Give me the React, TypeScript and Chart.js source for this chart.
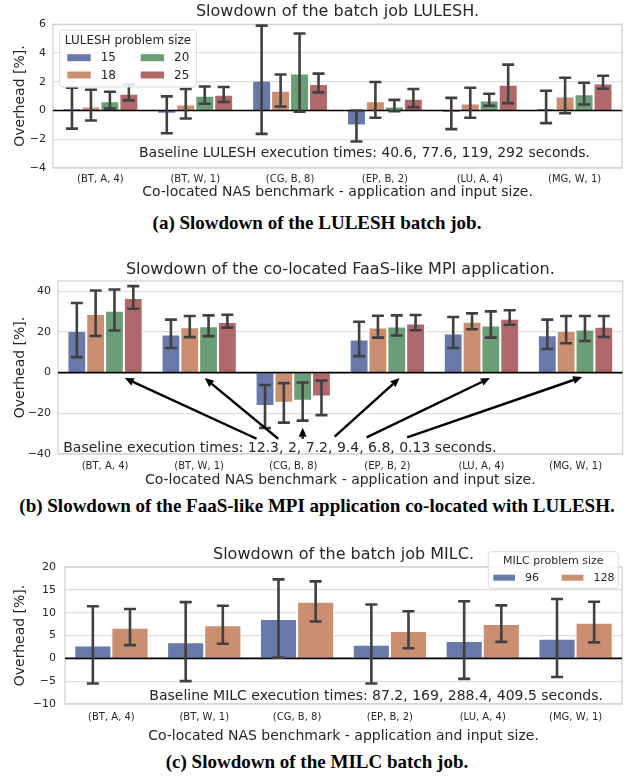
import React, { useEffect, useRef } from 'react';
import { Chart, registerables } from 'chart.js';

Chart.register(...registerables);

// ---------------- data ----------------
const categories = ['(BT, A, 4)', '(BT, W, 1)', '(CG, B, 8)', '(EP, B, 2)', '(LU, A, 4)', '(MG, W, 1)'];

// (a) slowdown of LULESH batch job
const luleshSizes = ['15', '18', '20', '25'];
const lulesh15 = [0.14, -0.23, 2.09, -1.05, -0.14, 0.16];
const lulesh15Lo = [-1.26, -1.58, -1.63, -2.16, -1.3, -0.88];
const lulesh15Hi = [1.58, 0.98, 5.9, 0.0, 0.88, 1.37];
const lulesh18 = [0.28, 0.42, 1.37, 0.65, 0.49, 0.98];
const lulesh18Lo = [-0.7, -0.56, 0.28, -0.51, -0.51, -0.19];
const lulesh18Hi = [1.44, 1.49, 2.5, 1.98, 1.58, 2.28];
const lulesh20 = [0.65, 1.02, 2.58, 0.28, 0.7, 1.12];
const lulesh20Lo = [0.14, 0.47, -0.09, -0.05, 0.33, 0.42];
const lulesh20Hi = [1.3, 1.67, 5.35, 0.74, 1.16, 1.93];
const lulesh25 = [1.16, 1.09, 1.84, 0.81, 1.79, 1.88];
const lulesh25Lo = [0.7, 0.6, 1.26, 0.23, 0.51, 1.51];
const lulesh25Hi = [1.81, 1.63, 2.56, 1.49, 3.19, 2.42];
const luleshTicks = [-4, -2, 0, 2, 4, 6];

// (b) slowdown of co-located FaaS-like MPI application
const faas15 = [20.5, 18.7, -16.4, 16.2, 19.2, 18.3];
const faas15Lo = [7.6, 12.1, -27.2, 8.1, 12.1, 11.6];
const faas15Hi = [34.2, 26.0, -6.1, 25.0, 27.3, 26.0];
const faas18 = [28.8, 22.3, -14.8, 22.1, 25.0, 20.5];
const faas18Lo = [18.0, 17.4, -24.6, 17.2, 21.3, 14.4];
const faas18Hi = [40.3, 27.8, -5.2, 27.9, 29.1, 27.8];
const faas20 = [30.4, 22.8, -13.8, 22.6, 23.1, 21.2];
const faas20Lo = [20.7, 17.9, -23.6, 18.2, 17.2, 15.5];
const faas20Hi = [40.8, 28.1, -4.9, 28.1, 30.1, 27.8];
const faas25 = [36.7, 24.8, -11.8, 24.1, 26.4, 22.5];
const faas25Lo = [31.4, 22.1, -20.9, 20.8, 23.5, 17.5];
const faas25Hi = [42.5, 28.4, -3.9, 28.3, 30.6, 27.8];
const faasTicks = [-40, -20, 0, 20, 40];
const arrowTipX = [0.21, 1.06, 2.1, 3.13, 4.09, 5.07];
const arrowTipY = [-2.7, -2.7, -27.1, -2.7, -2.7, -2.2];
const arrowTailX = [1.61, 1.84, 2.1, 2.44, 2.78, 3.21];
const arrowTailY = [-32.5, -32.5, -32.5, -31.5, -31.8, -31.8];

// (c) slowdown of MILC batch job
const milcSizes = ['96', '128'];
const milc96 = [2.8, 3.5, 8.6, 3.0, 3.8, 4.3];
const milc96Lo = [-5.5, -5.0, 0.15, -5.5, -4.5, -4.1];
const milc96Hi = [11.4, 12.3, 17.3, 11.8, 12.5, 13.0];
const milc128 = [6.7, 7.25, 12.4, 6.0, 7.5, 7.8];
const milc128Lo = [2.9, 3.2, 8.05, 2.2, 3.6, 3.5];
const milc128Hi = [10.8, 11.5, 16.85, 10.3, 11.6, 12.4];
const milcTicks = [-10, -5, 0, 5, 10, 15, 20];

// ---------------- style ----------------
const COLORS = ['#6879aa', '#c98f70', '#6b9e76', '#b1686a'];
const TEXT = '#262626';
const FONT = "'DejaVu Sans', sans-serif";
const XLABEL = 'Co-located NAS benchmark - application and input size.';
const YLABEL = 'Overhead [%].';

Chart.defaults.font.family = FONT;
Chart.defaults.color = TEXT;

const fmt = (v: number) => (v < 0 ? '\u2212' + Math.abs(v) : String(v));

type Legend = {
  title: string; titleSize: number; labelSize: number; right: boolean; dx: number; dy: number;
  w: number; h: number; titleDy: number; padX: number; colStep: number; patchW: number; patchH: number;
  rowY0: number; rowStep: number; labelDx: number; rows: number;
};

type Spec = {
  top: number; height: number; title: string; titlePad: { top: number; bottom: number };
  series: string[]; values: number[][]; lo: number[][]; hi: number[][];
  ticks: number[]; yMin: number; yMax: number; yW: number; yTickPad: number; yTitlePt: number;
  xH: number; xTickPad: number; xTitlePb: number; rightPad: number;
  note: string; noteX: number; noteY: number;
  legend?: Legend;
  arrows?: { tx: number[]; ty: number[]; sx: number[]; sy: number[] };
};

function makePlugins(spec: Spec) {
  return [
    {
      id: 'frameZero',
      beforeDatasetsDraw(chart: any) {
        const { ctx, chartArea: a } = chart;
        ctx.save();
        ctx.strokeStyle = '#cfcfcf';
        ctx.lineWidth = 1.2;
        ctx.strokeRect(a.left, a.top, a.right - a.left, a.bottom - a.top);
        ctx.restore();
      },
      afterDatasetsDraw(chart: any) {
        const { ctx, chartArea: a } = chart;
        const ys = chart.scales.y;
        ctx.save();
        const y0 = ys.getPixelForValue(0);
        ctx.strokeStyle = '#000000';
        ctx.lineWidth = 1.6;
        ctx.beginPath();
        ctx.moveTo(a.left, y0);
        ctx.lineTo(a.right, y0);
        ctx.stroke();
        // error bars
        ctx.strokeStyle = '#404040';
        ctx.lineWidth = 2.6;
        const cap = 6;
        spec.values.forEach((_, i) => {
          const meta = chart.getDatasetMeta(i);
          meta.data.forEach((el: any, j: number) => {
            const x = el.x;
            const y1 = ys.getPixelForValue(spec.lo[i][j]);
            const y2 = ys.getPixelForValue(spec.hi[i][j]);
            ctx.beginPath();
            ctx.moveTo(x, y1);
            ctx.lineTo(x, y2);
            ctx.moveTo(x - cap, y1);
            ctx.lineTo(x + cap, y1);
            ctx.moveTo(x - cap, y2);
            ctx.lineTo(x + cap, y2);
            ctx.stroke();
          });
        });
        ctx.restore();
      },
      afterDraw(chart: any) {
        const { ctx, chartArea: a } = chart;
        const xs = chart.scales.x;
        const ys = chart.scales.y;
        ctx.save();
        // annotation text
        ctx.fillStyle = TEXT;
        ctx.font = `14px ${FONT}`;
        ctx.textAlign = 'left';
        ctx.textBaseline = 'middle';
        ctx.fillText(spec.note, xs.getPixelForValue(spec.noteX), ys.getPixelForValue(spec.noteY));
        // arrows
        if (spec.arrows) {
          const ar = spec.arrows;
          ctx.strokeStyle = '#000';
          ctx.fillStyle = '#000';
          ctx.lineWidth = 2.4;
          ar.tx.forEach((_, k) => {
            const tx = xs.getPixelForValue(ar.tx[k]);
            const ty = ys.getPixelForValue(ar.ty[k]);
            const sx = xs.getPixelForValue(ar.sx[k]);
            const sy = ys.getPixelForValue(ar.sy[k]);
            const ang = Math.atan2(ty - sy, tx - sx);
            const hl = 9, hw = 4;
            const bx = tx - hl * Math.cos(ang);
            const by = ty - hl * Math.sin(ang);
            ctx.beginPath();
            ctx.moveTo(sx, sy);
            ctx.lineTo(bx, by);
            ctx.stroke();
            ctx.beginPath();
            ctx.moveTo(tx, ty);
            ctx.lineTo(bx + hw * Math.sin(ang), by - hw * Math.cos(ang));
            ctx.lineTo(bx - hw * Math.sin(ang), by + hw * Math.cos(ang));
            ctx.closePath();
            ctx.fill();
          });
        }
        // legend
        const L = spec.legend;
        if (L) {
          const bx = L.right ? a.right - L.dx - L.w : a.left + L.dx;
          const by = a.top + L.dy;
          ctx.fillStyle = 'rgba(255,255,255,0.85)';
          ctx.strokeStyle = '#dddddd';
          ctx.lineWidth = 1;
          ctx.beginPath();
          (ctx as any).roundRect(bx, by, L.w, L.h, 3);
          ctx.fill();
          ctx.stroke();
          ctx.fillStyle = TEXT;
          ctx.font = `${L.titleSize}px ${FONT}`;
          ctx.textAlign = 'center';
          ctx.textBaseline = 'middle';
          ctx.fillText(L.title, bx + L.w / 2, by + L.titleDy);
          ctx.font = `${L.labelSize}px ${FONT}`;
          ctx.textAlign = 'left';
          spec.series.forEach((name, k) => {
            const col = Math.floor(k / L.rows);
            const row = k % L.rows;
            const px = bx + L.padX + col * L.colStep;
            const py = by + L.rowY0 + row * L.rowStep;
            ctx.fillStyle = COLORS[k];
            ctx.fillRect(px, py - L.patchH / 2, L.patchW, L.patchH);
            ctx.fillStyle = TEXT;
            ctx.fillText(name, px + L.labelDx, py + 0.5);
          });
        }
        ctx.restore();
      },
    },
  ];
}

function Panel({ spec }: { spec: Spec }) {
  const ref = useRef<HTMLCanvasElement>(null);
  useEffect(() => {
    const chart = new Chart(ref.current as HTMLCanvasElement, {
      type: 'bar',
      data: {
        labels: categories,
        datasets: spec.values.map((vals, i) => ({
          label: spec.series[i],
          data: vals,
          backgroundColor: COLORS[i],
          borderColor: '#ffffff',
          borderWidth: 1,
          categoryPercentage: 0.8,
          barPercentage: 1.0,
        })),
      },
      options: {
        animation: false,
        responsive: false,
        devicePixelRatio: 1,
        layout: { padding: { left: 0, right: spec.rightPad, top: 0, bottom: 0 } },
        plugins: {
          legend: { display: false },
          tooltip: { enabled: false },
          title: {
            display: true,
            text: spec.title,
            fullSize: false,
            color: TEXT,
            font: { size: 16, weight: 'normal', family: FONT, lineHeight: 1.2 },
            padding: spec.titlePad,
          },
        },
        scales: {
          x: {
            type: 'category',
            offset: true,
            grid: { display: false, drawTicks: false },
            border: { display: false },
            ticks: { font: { size: 10 }, color: TEXT, padding: spec.xTickPad, maxRotation: 0, autoSkip: false },
            title: { display: true, text: XLABEL, color: TEXT, font: { size: 14 }, padding: { top: 0, bottom: spec.xTitlePb } },
            afterFit: (s: any) => { s.height = spec.xH; },
          },
          y: {
            type: 'linear',
            min: spec.yMin,
            max: spec.yMax,
            afterBuildTicks: (s: any) => { s.ticks = spec.ticks.map((v) => ({ value: v })); },
            grid: { color: '#dedede', lineWidth: 1.2, drawTicks: false },
            border: { display: false },
            ticks: { font: { size: 11 }, color: TEXT, padding: spec.yTickPad, callback: (v: any) => fmt(Number(v)) },
            title: { display: true, text: YLABEL, color: TEXT, font: { size: 14 }, padding: { top: spec.yTitlePt, bottom: 0 } },
            afterFit: (s: any) => { s.width = spec.yW; },
          },
        },
      } as any,
      plugins: makePlugins(spec) as any,
    });
    return () => chart.destroy();
  }, []);
  return (
    <canvas
      ref={ref}
      width={624}
      height={spec.height}
      style={{ position: 'absolute', left: 0, top: spec.top, width: 624, height: spec.height }}
    />
  );
}

const specA: Spec = {
  top: 0, height: 201, title: 'Slowdown of the batch job LULESH.', titlePad: { top: 2.4, bottom: 2.6 },
  series: luleshSizes,
  values: [lulesh15, lulesh18, lulesh20, lulesh25],
  lo: [lulesh15Lo, lulesh18Lo, lulesh20Lo, lulesh25Lo],
  hi: [lulesh15Hi, lulesh18Hi, lulesh20Hi, lulesh25Hi],
  ticks: luleshTicks, yMin: -4, yMax: 6, yW: 53, yTickPad: 7, yTitlePt: 11.6,
  xH: 33, xTickPad: 5, xTitlePb: 0, rightPad: 2,
  note: 'Baseline LULESH execution times: 40.6, 77.6, 119, 292 seconds.', noteX: 0.407, noteY: -3.0,
  legend: {
    title: 'LULESH problem size', titleSize: 12, labelSize: 12, right: false, dx: 6.5, dy: 5.8,
    w: 137, h: 57, titleDy: 10.7, padX: 7.8, colStep: 73.4, patchW: 23.4, patchH: 7,
    rowY0: 27.7, rowStep: 17.3, labelDx: 33.4, rows: 2,
  },
};

const specB: Spec = {
  top: 255, height: 235, title: 'Slowdown of the co-located FaaS-like MPI application.', titlePad: { top: 5.4, bottom: 1.4 },
  series: luleshSizes,
  values: [faas15, faas18, faas20, faas25],
  lo: [faas15Lo, faas18Lo, faas20Lo, faas25Lo],
  hi: [faas15Hi, faas18Hi, faas20Hi, faas25Hi],
  ticks: faasTicks, yMin: -40, yMax: 45, yW: 58, yTickPad: 7, yTitlePt: 11.6,
  xH: 36, xTickPad: 6, xTitlePb: 1.6, rightPad: 1.4,
  note: 'Baseline execution times: 12.3, 2, 7.2, 9.4, 6.8, 0.13 seconds.', noteX: -0.444, noteY: -37.1,
  arrows: { tx: arrowTipX, ty: arrowTipY, sx: arrowTailX, sy: arrowTailY },
};

const specC: Spec = {
  top: 540, height: 205, title: 'Slowdown of the batch job MILC.', titlePad: { top: 5.4, bottom: 2.4 },
  series: milcSizes,
  values: [milc96, milc128],
  lo: [milc96Lo, milc128Lo],
  hi: [milc96Hi, milc128Hi],
  ticks: milcTicks, yMin: -10, yMax: 20, yW: 65, yTickPad: 9, yTitlePt: 11.6,
  xH: 41, xTickPad: 7, xTitlePb: 0.6, rightPad: 2,
  note: 'Baseline MILC execution times: 87.2, 169, 288.4, 409.5 seconds.', noteX: 0.408, noteY: -8.33,
  legend: {
    title: 'MILC problem size', titleSize: 11, labelSize: 11, right: true, dx: 3.7, dy: -15.3,
    w: 130, h: 36.6, titleDy: 9.3, padX: 5, colStep: 68.4, patchW: 21.7, patchH: 6,
    rowY0: 26, rowStep: 0, labelDx: 31.7, rows: 1,
  },
};

const captionStyle = (top: number): React.CSSProperties => ({
  position: 'absolute',
  left: 5,
  top,
  width: 624,
  textAlign: 'center',
  fontFamily: "'Liberation Serif', serif",
  fontWeight: 'bold',
  fontSize: 19,
  lineHeight: '22px',
  color: '#000',
  whiteSpace: 'nowrap',
});

export default function App() {
  return (
    <div style={{ position: 'absolute', left: 0, top: 0, width: 624, height: 776, background: '#fff', overflow: 'hidden' }}>
      <Panel spec={specA} />
      <div style={captionStyle(212)}>(a) Slowdown of the LULESH batch job.</div>
      <Panel spec={specB} />
      <div style={captionStyle(495)}>(b) Slowdown of the FaaS-like MPI application co-located with LULESH.</div>
      <Panel spec={specC} />
      <div style={captionStyle(751)}>(c) Slowdown of the MILC batch job.</div>
    </div>
  );
}
